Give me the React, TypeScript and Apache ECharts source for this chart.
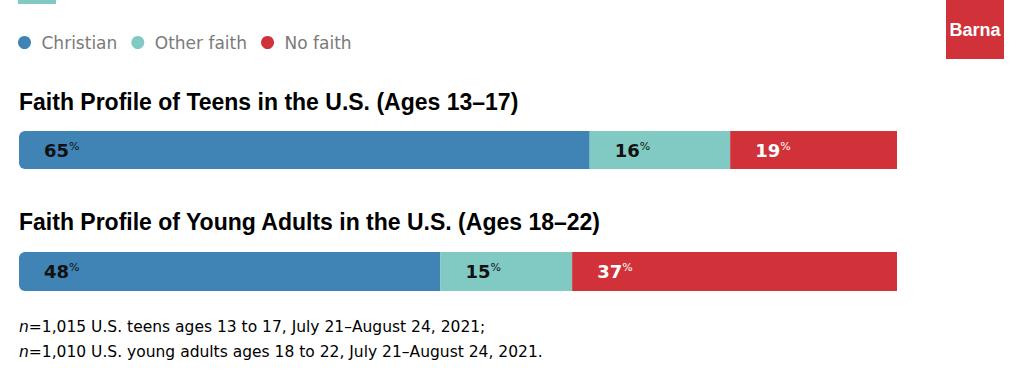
import React, { useEffect, useRef } from "react";
import * as echarts from "echarts";

const seriesNames = ["Christian", "Other faith", "No faith"];
const seriesColors = ["#4083B5", "#81CAC3", "#D13138"];
const labelColors = ["#111111", "#111111", "#FFFFFF"];
const teens = [65, 16, 19];
const youngAdults = [48, 15, 37];
const titles = [
  "Faith Profile of Teens in the U.S. (Ages 13–17)",
  "Faith Profile of Young Adults in the U.S. (Ages 18–22)",
];
const footnotes = [
  "=1,015 U.S. teens ages 13 to 17, July 21–August 24, 2021;",
  "=1,010 U.S. young adults ages 18 to 22, July 21–August 24, 2021.",
];

export default function App() {
  const ref = useRef<HTMLDivElement>(null);
  useEffect(() => {
    if (!ref.current) return;
    const chart = echarts.init(ref.current, null, { renderer: "svg" });
    const groups = [teens, youngAdults];
    const grids = [
      { left: 19, width: 878, top: 131, height: 38 },
      { left: 19, width: 878, top: 252, height: 39 },
    ];
    const series: any[] = [];
    groups.forEach((vals, gi) => {
      vals.forEach((v, si) => {
        series.push({
          type: "bar",
          name: seriesNames[si],
          stack: "s" + gi,
          xAxisIndex: gi,
          yAxisIndex: gi,
          barWidth: grids[gi].height,
          data: [v],
          itemStyle: {
            color: seriesColors[si],
            borderRadius: si === 0 ? [6, 0, 0, 6] : 0,
          },
          label: {
            show: true,
            position: "insideLeft",
            distance: 25,
            formatter: "{v|" + v + "}{p|%}",
            rich: {
              v: {
                fontFamily: "DejaVu Sans",
                fontWeight: "bold",
                fontSize: 18,
                color: labelColors[si],
              },
              p: {
                fontFamily: "DejaVu Sans",
                fontSize: 11,
                color: labelColors[si],
                verticalAlign: "top",
                padding: [0, 0, 8, 0],
              },
            },
          },
          emphasis: { disabled: true },
        });
      });
    });
    chart.setOption({
      animation: false,
      legend: {
        data: seriesNames,
        left: 18,
        top: 34,
        padding: 0,
        icon: "circle",
        itemWidth: 24,
        itemHeight: 13,
        itemGap: 14,
        textStyle: { color: "#7A7A7A", fontSize: 17, fontFamily: "DejaVu Sans" },
      },
      grid: grids,
      xAxis: grids.map((_, i) => ({
        type: "value",
        gridIndex: i,
        min: 0,
        max: 100,
        show: false,
      })),
      yAxis: grids.map((_, i) => ({
        type: "category",
        gridIndex: i,
        data: [titles[i]],
        show: false,
      })),
      series,
      graphic: [
        { type: "rect", shape: { x: 18, y: 0, width: 38, height: 4 }, style: { fill: "#81CAC3" } },
        { type: "rect", shape: { x: 946, y: 0, width: 58, height: 59 }, style: { fill: "#D13138" } },
        {
          type: "text",
          x: 975,
          y: 30,
          style: {
            text: "Barna",
            fill: "#FFFFFF",
            fontFamily: "Liberation Sans",
            fontWeight: "bold",
            fontSize: 18,
            align: "center",
            verticalAlign: "middle",
          },
        },
        ...titles.map((t, i) => ({
          type: "text",
          x: 19,
          y: i === 0 ? 102 : 222,
          style: {
            text: t,
            fill: "#000000",
            fontFamily: "Liberation Sans",
            fontWeight: "bold",
            fontSize: 23,
            verticalAlign: "middle",
          },
        })),
        ...footnotes.map((t, i) => ({
          type: "text",
          x: 19,
          y: i === 0 ? 327 : 352,
          style: {
            text: "{i|n}{r|" + t + "}",
            verticalAlign: "middle",
            rich: {
              i: { fontStyle: "italic", fontSize: 15.5, color: "#909090", fontFamily: "DejaVu Sans" },
              r: { fontSize: 15.5, color: "#909090", fontFamily: "DejaVu Sans" },
            },
          },
        })),
      ],
    });
    return () => chart.dispose();
  }, []);
  return (
    <div
      ref={ref}
      style={{ position: "absolute", left: 0, top: 0, width: 1024, height: 378 }}
    />
  );
}
